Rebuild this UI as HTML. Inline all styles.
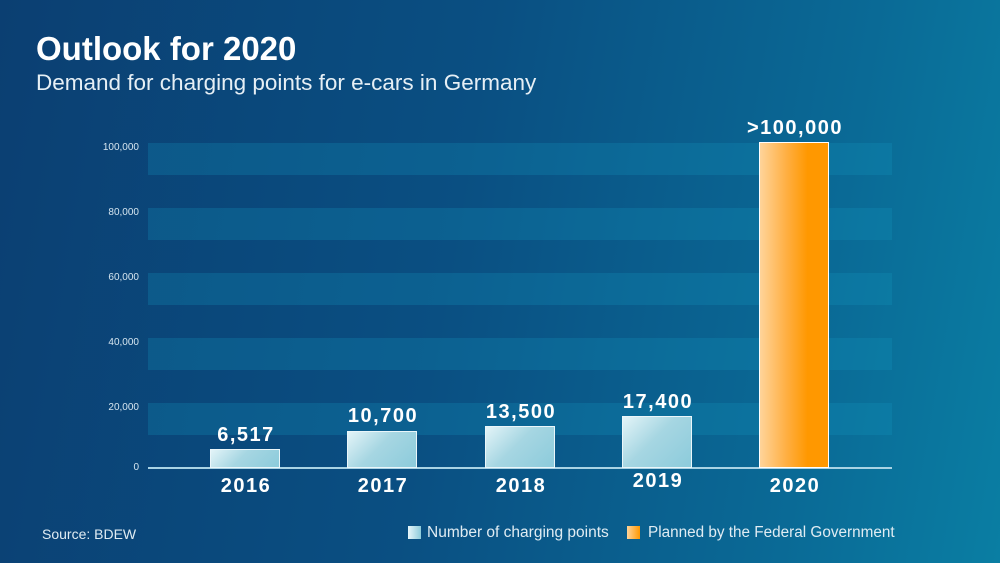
<!DOCTYPE html>
<html><head><meta charset="utf-8"><style>
body{margin:0;width:1000px;height:563px;overflow:hidden;position:relative;font-family:"Liberation Sans","DejaVu Sans",sans-serif;
background:linear-gradient(100deg,#0b3f72 0%,#0a4f82 45%,#0a6a96 80%,#0a7ea3 100%);color:#fff}
.t{position:absolute;white-space:nowrap}
.band{position:absolute;left:148px;width:744px;height:32px;background:rgba(20,150,190,0.25)}
.yl{position:absolute;right:861px;font-size:10px;color:#d6e6f0}
.bar{position:absolute;width:70px;bottom:95px;border:1.5px solid #eaf6fa;background:linear-gradient(135deg,#e3f4f8,#a6d6e2 45%,#8ccbdb);box-sizing:border-box}
.v{position:absolute;font-weight:bold;font-size:20px;width:120px;text-align:center;letter-spacing:1.5px}
.x{position:absolute;font-weight:bold;font-size:20px;width:120px;text-align:center;letter-spacing:1.5px}
</style></head><body>
<div class="t" style="left:36px;top:30px;font-size:33px;font-weight:bold">Outlook for 2020</div>
<div class="t" style="left:36px;top:70px;font-size:22.5px;color:#e6eff5">Demand for charging points for e-cars in Germany</div>
<div class="band" style="top:143px"></div>
<div class="band" style="top:208px"></div>
<div class="band" style="top:273px"></div>
<div class="band" style="top:338px"></div>
<div class="band" style="top:403px"></div>
<div style="position:absolute;left:148px;width:744px;top:467px;height:1.5px;background:#a9d3e4"></div>
<div class="yl" style="top:142px">100,000</div>
<div class="yl" style="top:207px">80,000</div>
<div class="yl" style="top:272px">60,000</div>
<div class="yl" style="top:337px">40,000</div>
<div class="yl" style="top:402px">20,000</div>
<div class="yl" style="top:462px">0</div>
<div class="bar" style="left:210px;height:19px"></div>
<div class="bar" style="left:347px;height:37px"></div>
<div class="bar" style="left:485px;height:42px"></div>
<div class="bar" style="left:622px;height:52px"></div>
<div class="bar" style="left:759px;height:326px;border-color:#fff;background:linear-gradient(90deg,#ffd49a,#ffae40 40%,#ff9800 70%,#ff9800)"></div>
<div class="v" style="left:186px;top:424px">6,517</div>
<div class="v" style="left:323px;top:405px">10,700</div>
<div class="v" style="left:461px;top:401px">13,500</div>
<div class="v" style="left:598px;top:391px">17,400</div>
<div class="v" style="left:735px;top:117px">&gt;100,000</div>
<div class="x" style="left:186px;top:475px">2016</div>
<div class="x" style="left:323px;top:475px">2017</div>
<div class="x" style="left:461px;top:475px">2018</div>
<div class="x" style="left:598px;top:470px">2019</div>
<div class="x" style="left:735px;top:475px">2020</div>
<div class="t" style="left:42px;top:526px;font-size:14px;color:#e0ecf3">Source: BDEW</div>
<div style="position:absolute;left:408px;top:526px;width:13px;height:13px;background:linear-gradient(90deg,#e8f6fa,#8ccbdb)"></div>
<div class="t" style="left:427px;top:524px;font-size:15.5px;color:#e0ecf3">Number of charging points</div>
<div style="position:absolute;left:627px;top:526px;width:13px;height:13px;background:linear-gradient(90deg,#ffd49a,#ff9800)"></div>
<div class="t" style="left:648px;top:524px;font-size:15.3px;color:#e0ecf3">Planned by the Federal Government</div>
</body></html>
